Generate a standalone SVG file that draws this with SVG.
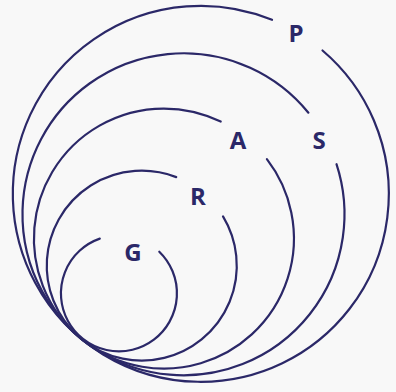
<svg xmlns="http://www.w3.org/2000/svg" width="396" height="392" viewBox="0 0 396 392">
<style>
.ring{fill:none;stroke:#2b2868;stroke-width:2.2;stroke-linecap:round}
.lbl{font-family:"Open Sans","Liberation Sans",Arial,sans-serif;font-weight:700;font-size:24px;fill:#2b2868;text-anchor:middle}
</style>
<rect x="0" y="0" width="396" height="392" fill="#f8f8f8"/>
<g id="P">
<path class="ring" d="M322.5,50.5 A188,188 0 1 1 272.0,19.8"/>
<text class="lbl" x="296" y="41.5">P</text>
</g>
<g id="S">
<path class="ring" d="M336.5,164.2 A161,161 0 1 1 308.4,112.7"/>
<text class="lbl" x="319" y="148.5">S</text>
</g>
<g id="A">
<path class="ring" d="M266.9,159.2 A130,130 0 1 1 220.7,121.6"/>
<text class="lbl" x="238" y="149">A</text>
</g>
<g id="R">
<path class="ring" d="M223.0,216.4 A95,95 0 1 1 176.2,177.1"/>
<text class="lbl" x="198" y="204.5">R</text>
</g>
<g id="G">
<path class="ring" d="M159.3,251.7 A58,58 0 1 1 99.8,238.6"/>
<text class="lbl" x="133" y="260.5">G</text>
</g>
<g id="connectors"></g>
</svg>
